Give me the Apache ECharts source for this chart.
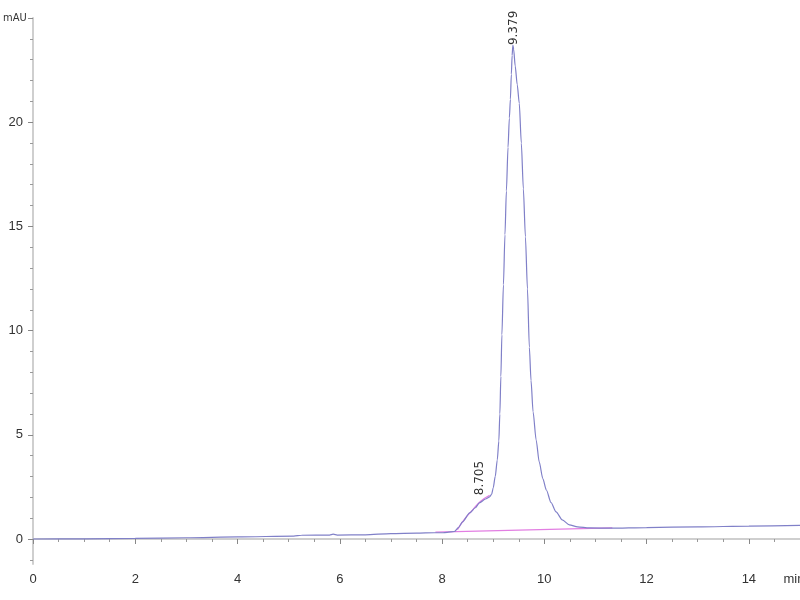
<!DOCTYPE html>
<html>
<head>
<meta charset="utf-8">
<script src="https://cdn.jsdelivr.net/npm/echarts@6/dist/echarts.min.js"></script>
<style>html,body{margin:0;padding:0;background:#fff;}#c{width:800px;height:600px;}</style>
</head>
<body>
<div id="c"></div>
<script>
// retention time (min)
var times = [0, 1, 2, 3, 4, 5.1, 5.25, 5.8, 5.87, 5.95, 6.5, 7.0, 7.5, 7.85, 8.0, 8.1, 8.24, 8.32, 8.4, 8.54, 8.65, 8.73, 8.85, 8.93, 8.97, 9.0, 9.04, 9.08, 9.11, 9.13, 9.15, 9.17, 9.2, 9.23, 9.258, 9.29, 9.316, 9.336, 9.355, 9.37, 9.385, 9.4, 9.43, 9.47, 9.51, 9.55, 9.59, 9.63, 9.67, 9.707, 9.74, 9.78, 9.84, 9.9, 9.97, 10.04, 10.13, 10.23, 10.35, 10.49, 10.65, 10.88, 11.3, 12, 13, 14, 15];
// absorbance (mAU)
var signal = [0, 0.01, 0.03, 0.06, 0.1, 0.14, 0.18, 0.19, 0.23, 0.19, 0.2, 0.26, 0.28, 0.3, 0.3, 0.32, 0.36, 0.55, 0.82, 1.25, 1.5, 1.73, 1.92, 2.02, 2.15, 2.45, 3.0, 3.8, 4.7, 6.0, 7.8, 9.8, 12.2, 14.6, 16.7, 18.8, 20.2, 21.1, 22.3, 23.2, 23.7, 23.5, 22.7, 21.8, 20.9, 19.0, 16.8, 14.5, 12.0, 9.2, 7.6, 6.1, 4.75, 3.7, 2.9, 2.35, 1.75, 1.3, 0.92, 0.68, 0.58, 0.53, 0.52, 0.55, 0.58, 0.62, 0.65];
// integration baseline and shoulder fit
var baseTimes = [7.87, 11.33];
var baseValues = [0.33, 0.53];
var fitTimes = [8.3, 8.44, 8.6, 8.75, 8.93];
var fitValues = [0.45, 0.95, 1.4, 1.8, 2.1];
// peak labels
var peakLabels = ['8.705', '9.379'];
var peakAnchorX = [8.73, 9.40];
var peakAnchorY = [2.1, 23.7];
// axis ticks
var xMajor = [0, 2, 4, 6, 8, 10, 12, 14];
var xLabels = [0, 2, 4, 6, 8, 10, 12, 14, 15];
var xMinor = [1, 3, 5, 7, 9, 11, 13, 0.5, 1.5, 2.5, 3.5, 4.5, 5.5, 6.5, 7.5, 8.5, 9.5, 10.5, 11.5, 12.5, 13.5, 14.5];
var yMajor = [0, 5, 10, 15, 20, 25];
var yMinor = [-1, 1, 2, 3, 4, 6, 7, 8, 9, 11, 12, 13, 14, 16, 17, 18, 19, 21, 22, 23, 24];

function pairs(a, b) { return a.map(function (v, i) { return [v, b[i]]; }); }

var labelFont = 'Liberation Sans Narrow, Liberation Sans, Arial, sans-serif';
var chart = echarts.init(document.getElementById('c'), null, { renderer: 'canvas' });
chart.setOption({
  animation: false,
  backgroundColor: '#ffffff',
  grid: { left: 33, right: 0, top: 18, bottom: 36, containLabel: false, outerBoundsMode: 'none' },
  xAxis: [{
    type: 'value', min: 0, max: 15, position: 'bottom',
    axisLine: { show: true, lineStyle: { color: '#cfcfcf', width: 2 } },
    axisTick: { show: true, customValues: xMajor, length: 5, lineStyle: { color: '#888' } },
    axisLabel: { show: true, customValues: xLabels, margin: 9, color: '#333', fontSize: 13, fontFamily: labelFont,
      hideOverlap: false, showMaxLabel: true,
      formatter: function (v) { return v === 15 ? '{m|min}' : String(v); },
      rich: { m: { color: '#333', fontSize: 13, fontFamily: labelFont, padding: [0, 12, 0, 0] } } },
    splitLine: { show: false }
  }, {
    type: 'value', min: 0, max: 15, position: 'bottom', offset: 0,
    axisLine: { show: false },
    axisTick: { show: true, customValues: xMinor, length: 3, lineStyle: { color: '#999' } },
    axisLabel: { show: false },
    splitLine: { show: false }
  }],
  yAxis: [{
    type: 'value', min: -1.2, max: 25, position: 'left',
    axisLine: { show: true, lineStyle: { color: '#cfcfcf', width: 2 } },
    axisTick: { show: true, customValues: yMajor, length: 5, lineStyle: { color: '#888' } },
    axisLabel: { show: true, customValues: yMajor, margin: 10, color: '#333', fontSize: 13, fontFamily: labelFont,
      formatter: function (v) { return v === 25 ? '{u|mAU}' : String(v); },
      rich: { u: { color: '#333', fontSize: 11, width: 20, align: 'left', fontFamily: 'DejaVu Sans Condensed, DejaVu Sans, sans-serif' } } },
    splitLine: { show: false }
  }, {
    type: 'value', min: -1.2, max: 25, position: 'left', offset: 0,
    axisLine: { show: false },
    axisTick: { show: true, customValues: yMinor, length: 3, lineStyle: { color: '#999' } },
    axisLabel: { show: false },
    splitLine: { show: false }
  }],
  series: [{
    type: 'line', name: 'baseline', data: pairs(baseTimes, baseValues),
    showSymbol: false, lineStyle: { color: '#e27ee2', width: 1.3 }, z: 2
  }, {
    type: 'line', name: 'fit', data: pairs(fitTimes, fitValues), smooth: true,
    showSymbol: false, lineStyle: { color: '#e27ee2', width: 1.3 }, z: 2
  }, {
    type: 'line', name: 'signal', data: pairs(times, signal), smooth: 0.25, smoothMonotone: 'x',
    showSymbol: false, lineStyle: { color: '#8080c8', width: 1.2 }, z: 3,
    markPoint: {
      symbol: 'circle', symbolSize: 1,
      itemStyle: { color: 'rgba(0,0,0,0)' },
      label: {
        show: true, rotate: 90, position: 'inside', align: 'left', verticalAlign: 'middle',
        color: '#333', fontSize: 12, fontFamily: 'DejaVu Sans, sans-serif',
        formatter: function (p) { return p.name; }
      },
      data: peakLabels.map(function (t, i) { return { name: t, coord: [peakAnchorX[i], peakAnchorY[i]] }; })
    }
  }]
});
</script>
</body>
</html>
